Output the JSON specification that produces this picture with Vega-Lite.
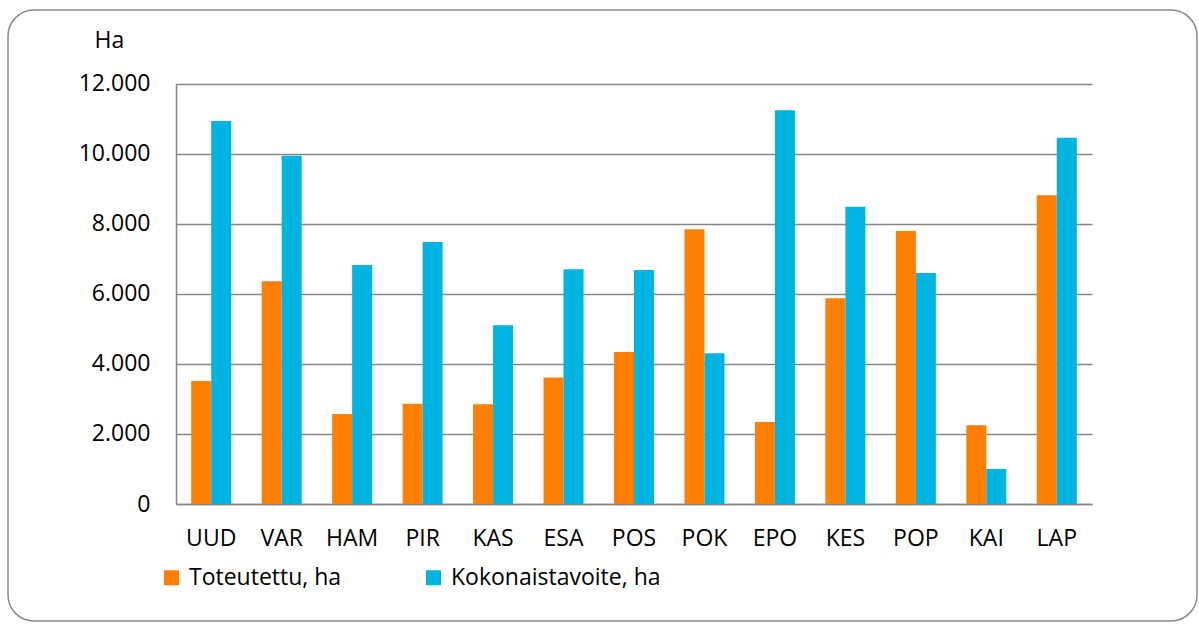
{
  "$schema": "https://vega.github.io/schema/vega-lite/v6.json",
  "width": 1189,
  "height": 611,
  "autosize": {"type": "none"},
  "padding": {"left": 8, "top": 10, "right": 2, "bottom": 4},
  "background": "white",
  "config": {
    "font": "Open Sans",
    "view": {"stroke": "#8a8a8a", "strokeWidth": 1.5, "cornerRadius": 26, "fill": "white"}
  },
  "data": {
    "values": [
      {"region": "UUD", "series": "Toteutettu, ha", "value": 3510},
      {"region": "UUD", "series": "Kokonaistavoite, ha", "value": 10930},
      {"region": "VAR", "series": "Toteutettu, ha", "value": 6360},
      {"region": "VAR", "series": "Kokonaistavoite, ha", "value": 9940},
      {"region": "HAM", "series": "Toteutettu, ha", "value": 2570},
      {"region": "HAM", "series": "Kokonaistavoite, ha", "value": 6820},
      {"region": "PIR", "series": "Toteutettu, ha", "value": 2860},
      {"region": "PIR", "series": "Kokonaistavoite, ha", "value": 7480},
      {"region": "KAS", "series": "Toteutettu, ha", "value": 2850},
      {"region": "KAS", "series": "Kokonaistavoite, ha", "value": 5100},
      {"region": "ESA", "series": "Toteutettu, ha", "value": 3610},
      {"region": "ESA", "series": "Kokonaistavoite, ha", "value": 6700},
      {"region": "POS", "series": "Toteutettu, ha", "value": 4340},
      {"region": "POS", "series": "Kokonaistavoite, ha", "value": 6680},
      {"region": "POK", "series": "Toteutettu, ha", "value": 7840},
      {"region": "POK", "series": "Kokonaistavoite, ha", "value": 4300},
      {"region": "EPO", "series": "Toteutettu, ha", "value": 2340},
      {"region": "EPO", "series": "Kokonaistavoite, ha", "value": 11240},
      {"region": "KES", "series": "Toteutettu, ha", "value": 5870},
      {"region": "KES", "series": "Kokonaistavoite, ha", "value": 8480},
      {"region": "POP", "series": "Toteutettu, ha", "value": 7790},
      {"region": "POP", "series": "Kokonaistavoite, ha", "value": 6590},
      {"region": "KAI", "series": "Toteutettu, ha", "value": 2250},
      {"region": "KAI", "series": "Kokonaistavoite, ha", "value": 1000},
      {"region": "LAP", "series": "Toteutettu, ha", "value": 8810},
      {"region": "LAP", "series": "Kokonaistavoite, ha", "value": 10450}
    ]
  },
  "mark": {"type": "bar"},
  "encoding": {
    "x": {
      "field": "region", "type": "nominal", "sort": null,
      "scale": {"range": [168, 1084], "paddingInner": 0.432, "paddingOuter": 0.216},
      "axis": {
        "title": null, "orient": "bottom", "offset": -117,
        "ticks": false, "tickSize": 0, "labelPadding": 34, "labelBaseline": "middle",
        "labelAngle": 0, "labelFont": "Open Sans", "labelFontSize": 23, "labelColor": "black",
        "domainColor": "#868686", "domainWidth": 1.5, "grid": false
      }
    },
    "xOffset": {
      "field": "series", "type": "nominal",
      "sort": ["Toteutettu, ha", "Kokonaistavoite, ha"],
      "scale": {"paddingInner": 0, "paddingOuter": 0}
    },
    "y": {
      "field": "value", "type": "quantitative",
      "scale": {"domain": [0, 12000], "range": [494, 73.5], "nice": false, "zero": true},
      "axis": {
        "title": "Ha", "titleAngle": 0, "titleAlign": "left", "titleBaseline": "middle",
        "titleX": -82, "titleY": 30.5, "titleFont": "Open Sans", "titleFontSize": 23,
        "titleFontWeight": "normal", "titleColor": "black",
        "values": [0, 2000, 4000, 6000, 8000, 10000, 12000],
        "offset": -168, "ticks": false, "tickSize": 0, "labelPadding": 26,
        "labelFont": "Open Sans", "labelFontSize": 23, "labelColor": "black",
        "labelExpr": "replace(format(datum.value, ','), ',', '.')",
        "domainColor": "#868686", "domainWidth": 1.5,
        "grid": true, "gridColor": "#868686", "gridWidth": 1.5
      }
    },
    "color": {
      "field": "series", "type": "nominal",
      "scale": {"domain": ["Toteutettu, ha", "Kokonaistavoite, ha"], "range": ["#FF8000", "#00B4E1"]},
      "legend": {
        "title": null, "orient": "none", "legendX": 152, "legendY": 556,
        "direction": "horizontal", "symbolType": "square", "symbolSize": 225,
        "symbolStrokeWidth": 0, "labelFont": "Open Sans", "labelFontSize": 23,
        "labelColor": "black", "labelOffset": 6, "columnPadding": 80, "labelLimit": 400
      }
    }
  }
}
